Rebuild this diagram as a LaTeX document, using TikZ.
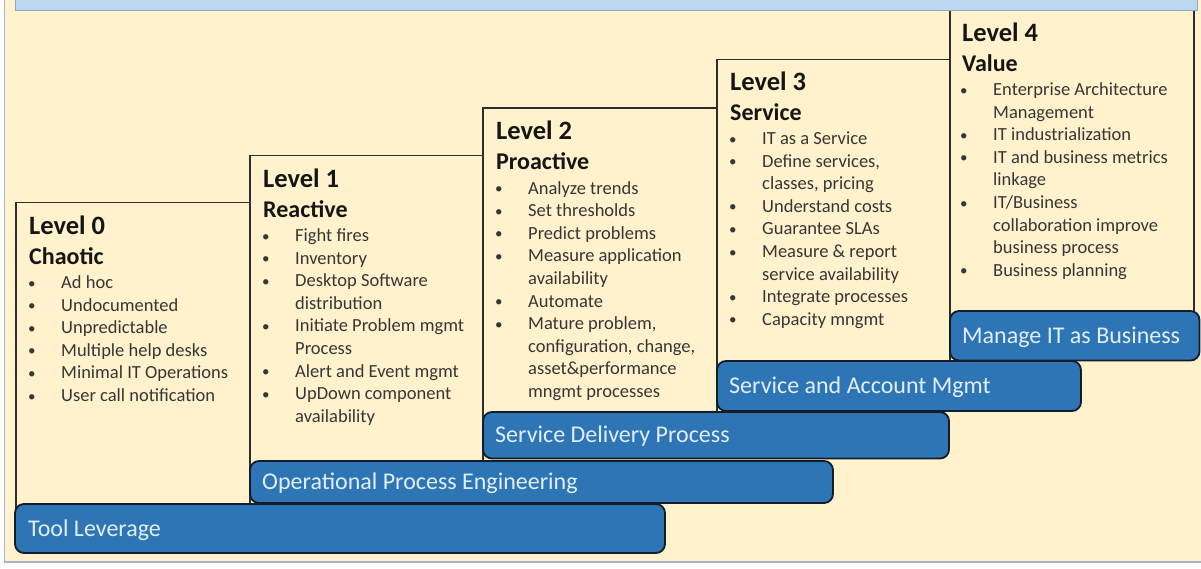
\documentclass[tikz,border=0pt]{standalone}
\usepackage{fontspec}
\setmainfont{Carlito}
\usepackage{array}
\definecolor{cream}{HTML}{FFF2CC}
\definecolor{topblue}{HTML}{BDD7EE}
\definecolor{topline}{HTML}{8EA9C8}
\definecolor{frameline}{HTML}{A3B6CC}
\definecolor{boxline}{HTML}{2E2E2E}
\definecolor{barblue}{HTML}{2E75B6}
\definecolor{barline}{HTML}{141C2C}
\definecolor{bartxt}{HTML}{E2EEF9}
\definecolor{headtxt}{HTML}{151515}
\definecolor{itemtxt}{HTML}{363636}
\newcommand{\bul}{{\fontsize{15}{15}\selectfont\raisebox{0.5pt}{•}}}
\newcommand{\itemlist}[1]{\begin{tabular}[t]{@{}p{33pt}@{}l@{}}#1\end{tabular}}
\begin{document}
\begin{tikzpicture}[x=1pt,y=-1pt,
  lvbox/.style={draw=boxline, line width=1.4pt, fill=cream},
  bar/.style={draw=barline, line width=1.8pt, fill=barblue, rounded corners=9pt},
  bartext/.style={anchor=west, inner sep=0pt, text=bartxt, font=\fontsize{24}{28}\selectfont},
  head/.style={anchor=base west, inner sep=0pt, text=headtxt, font=\bfseries\fontsize{26.5}{30}\selectfont},
  subhead/.style={anchor=base west, inner sep=0pt, text=headtxt, font=\bfseries\fontsize{24}{28}\selectfont},
  items/.style={anchor=base west, inner sep=0pt, text=itemtxt, font=\fontsize{18.5}{22.6}\selectfont},
]
\useasboundingbox (0,0) rectangle (1201,568);
\begin{scope}
\clip (0,0) rectangle (1201,568);
\fill[white] (0,0) rectangle (1201,568);
\draw[frameline, line width=1.2pt, fill=cream] (4.5,-10) rectangle (1215,562);

% level boxes
\draw[lvbox] (16,202.5) rectangle (250,520);
\draw[lvbox] (250,155.5) rectangle (483,480);
\draw[lvbox] (483,108) rectangle (717,430);
\draw[lvbox] (717,59.5) rectangle (950,380);
\draw[lvbox] (950,5) rectangle (1194,330);

% top bar
\draw[topline, line width=1pt, fill=topblue] (15,-5) rectangle (1197,10.5);

% level 0
\node[head] (h0) at (29,234) {Level 0};
\node[subhead] (s0) at (29,264) {Chaotic};
\node[items] (i0) at (28,288.5) {\itemlist{%
\bul & Ad hoc\\
\bul & Undocumented\\
\bul & Unpredictable\\
\bul & Multiple help desks\\
\bul & Minimal IT Operations\\
\bul & User call notification}};

% level 1
\node[head] (h1) at (263,187) {Level 1};
\node[subhead] (s1) at (263,217) {Reactive};
\node[items] (i1) at (262,241.5) {\itemlist{%
\bul & Fight fires\\
\bul & Inventory\\
\bul & Desktop Software\\
  & distribution\\
\bul & Initiate Problem mgmt\\
  & Process\\
\bul & Alert and Event mgmt\\
\bul & UpDown component\\
  & availability}};

% level 2
\node[head] (h2) at (496,139.5) {Level 2};
\node[subhead] (s2) at (496,169.5) {Proactive};
\node[items] (i2) at (495,194) {\itemlist{%
\bul & Analyze trends\\
\bul & Set thresholds\\
\bul & Predict problems\\
\bul & Measure application\\
  & availability\\
\bul & Automate\\
\bul & Mature problem,\\
  & configuration, change,\\
  & asset\&performance\\
  & mngmt processes}};

% level 3
\node[head] (h3) at (730,90) {Level 3};
\node[subhead] (s3) at (730,120) {Service};
\node[items] (i3) at (729,144.5) {\itemlist{%
\bul & IT as a Service\\
\bul & Define services,\\
  & classes, pricing\\
\bul & Understand costs\\
\bul & Guarantee SLAs\\
\bul & Measure \& report\\
  & service availability\\
\bul & Integrate processes\\
\bul & Capacity mngmt}};

% level 4
\node[head] (h4) at (962,41) {Level 4};
\node[subhead] (s4) at (962,71) {Value};
\node[items] (i4) at (960,95.5) {\itemlist{%
\bul & Enterprise Architecture\\
  & Management\\
\bul & IT industrialization\\
\bul & IT and business metrics\\
  & linkage\\
\bul & IT/Business\\
  & collaboration improve\\
  & business process\\
\bul & Business planning}};

% bars
\draw[bar] (15,504) rectangle (665,553);
\node[bartext] (b0) at (28,530) {Tool Leverage};
\draw[bar] (250,461) rectangle (833,503);
\node[bartext] (b1) at (262,483) {Operational Process Engineering};
\draw[bar] (483,412) rectangle (949,458.5);
\node[bartext] (b2) at (495,436) {Service Delivery Process};
\draw[bar] (717,361) rectangle (1081,411);
\node[bartext] (b3) at (729,387) {Service and Account Mgmt};
\draw[bar] (950,311) rectangle (1199.5,360.5);
\node[bartext] (b4) at (962,337) {Manage IT as Business};
\end{scope}
\end{tikzpicture}
\end{document}
